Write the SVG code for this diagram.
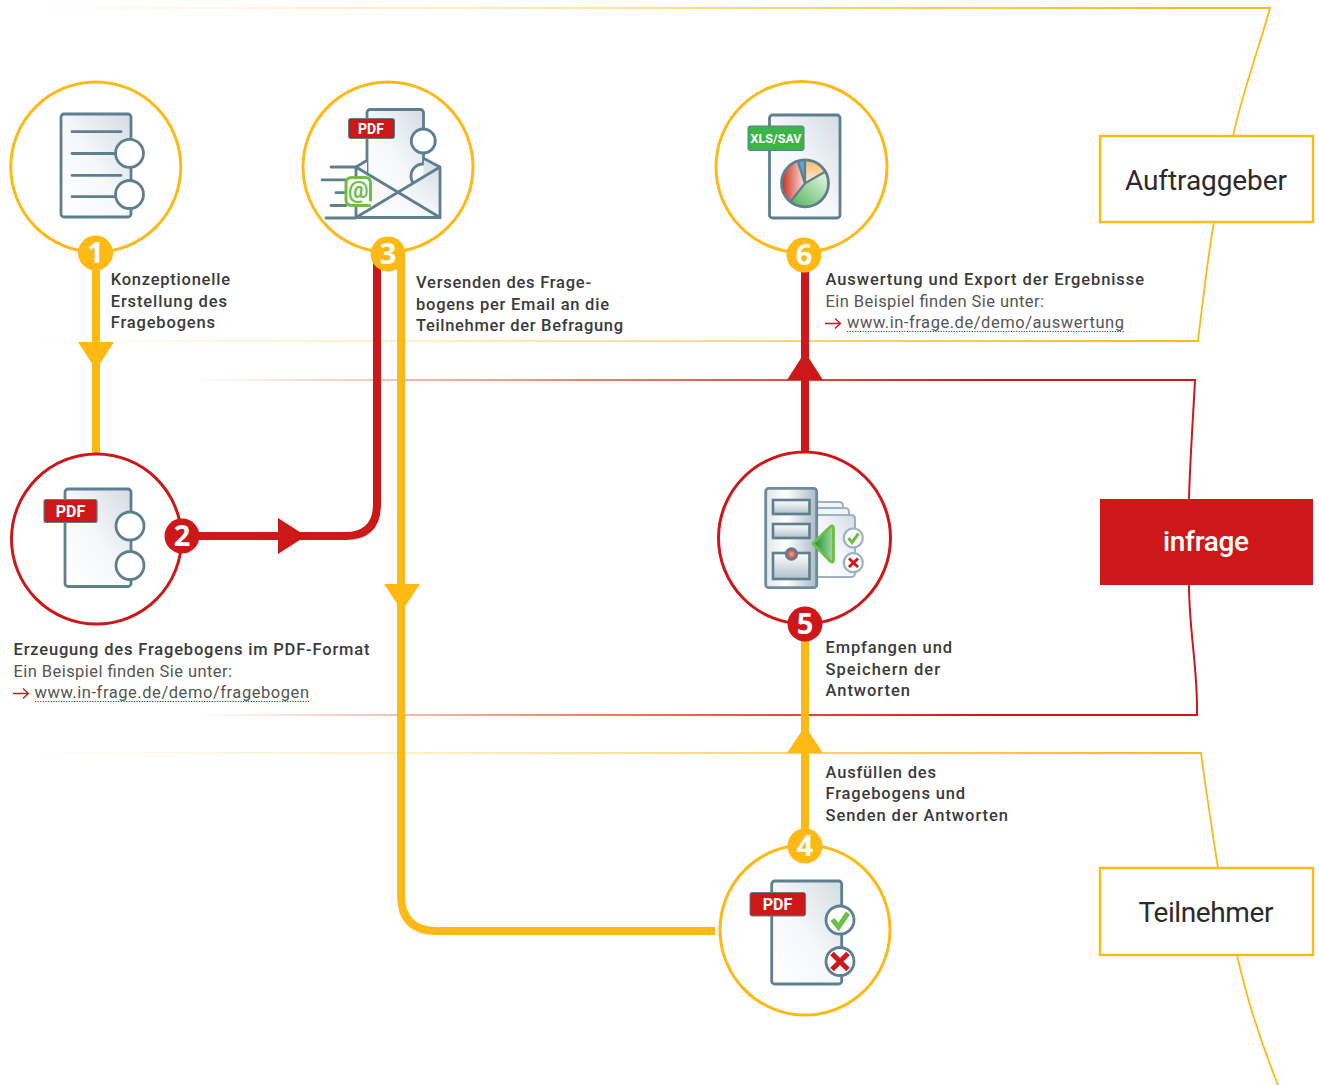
<svg xmlns="http://www.w3.org/2000/svg" width="1319" height="1085" viewBox="0 0 1319 1085">
<style>
.t{font-family:Roboto,"Noto Sans",sans-serif;font-size:16.5px;font-weight:500;fill:#3a3a3a}
.r{font-family:Roboto,"Noto Sans",sans-serif;font-size:16.5px;font-weight:400;fill:#555}
.b{font-family:Roboto,"Noto Sans",sans-serif;font-size:28px;font-weight:400;fill:#2b2b2b;text-anchor:middle}
.n{font-family:"Open Sans","Liberation Sans",sans-serif;font-size:29px;font-weight:700;fill:#fff;text-anchor:middle}
.tag{font-family:Roboto,"Liberation Sans",sans-serif;font-size:16px;font-weight:700;fill:#fff;text-anchor:middle}
.cy{fill:#fff;stroke:#ffb914;stroke-width:3}
.cr{fill:#fff;stroke:#cd1719;stroke-width:3}
.doc{fill:url(#dg);stroke:#5f7f8f;stroke-width:2.8}
.ic{fill:#fff;stroke:#5f7f8f;stroke-width:2.8}
.ln{fill:none;stroke:#5f7f8f;stroke-width:2.8;stroke-linecap:round}
.yl{fill:none;stroke:#ffb914;stroke-width:8}
.rl{fill:none;stroke:#cd1719;stroke-width:8}
.ud{stroke:#cd1719;stroke-width:1.2;stroke-dasharray:1.2 1.4;fill:none}
.ar{stroke:#cd1719;stroke-width:1.3;fill:none}
</style>
<defs>
<linearGradient id="dg" x1="0" y1="1" x2="1" y2="0"><stop offset="0" stop-color="#fff"/><stop offset=".5" stop-color="#f5f7f9"/><stop offset="1" stop-color="#d3dce3"/></linearGradient>
<linearGradient id="sv" x1="0" y1="0" x2="1" y2="0"><stop offset="0" stop-color="#dfe6ea"/><stop offset=".4" stop-color="#fff"/><stop offset="1" stop-color="#a9bbc6"/></linearGradient>
<linearGradient id="sl" x1="0" y1="0" x2="0" y2="1"><stop offset="0" stop-color="#fff"/><stop offset="1" stop-color="#b0c1cb"/></linearGradient>
<linearGradient id="gy" gradientUnits="userSpaceOnUse" x1="20" y1="0" x2="1200" y2="0"><stop offset="0" stop-color="#ffb914" stop-opacity="0"/><stop offset=".35" stop-color="#ffb914" stop-opacity=".25"/><stop offset="1" stop-color="#ffb914"/></linearGradient>
<linearGradient id="gr" gradientUnits="userSpaceOnUse" x1="195" y1="0" x2="1000" y2="0"><stop offset="0" stop-color="#e8866a" stop-opacity="0"/><stop offset=".48" stop-color="#e8866a"/><stop offset="1" stop-color="#cd1719"/></linearGradient>
<linearGradient id="pr" x1="0" y1="0" x2="1" y2="0"><stop offset="0" stop-color="#cd2a1c"/><stop offset="1" stop-color="#fbe5dc"/></linearGradient>
<linearGradient id="pg" x1="0" y1="1" x2="1" y2="0"><stop offset="0" stop-color="#4fb255"/><stop offset="1" stop-color="#f2f8ef"/></linearGradient>
<linearGradient id="po" x1="0" y1="0" x2="0" y2="1"><stop offset="0" stop-color="#fdb866"/><stop offset="1" stop-color="#fff0dc"/></linearGradient>
<linearGradient id="ga" x1="0" y1="0" x2="1" y2="0"><stop offset="0" stop-color="#0f8f30"/><stop offset="1" stop-color="#a8d8a4"/></linearGradient>
<radialGradient id="kn" cx=".5" cy=".5" r=".6"><stop offset="0" stop-color="#f5a79b"/><stop offset="1" stop-color="#cd1719"/></radialGradient>
</defs>

<g id="bands" fill="none">
<path d="M20 8 H1270 C1260 45 1243 90 1233 136 M1214 222 C1207 262 1203 300 1198 341 H40" stroke="url(#gy)" stroke-width="1.8"/>
<path d="M195 380 H1195 C1193 420 1190 460 1189 499 M1189 585 C1189 630 1198 670 1197 715 H195" stroke="url(#gr)" stroke-width="2"/>
<path d="M40 753 H1201 C1206 790 1212 830 1218 868 M1237 955 C1247 1000 1262 1045 1278 1085" stroke="url(#gy)" stroke-width="1.800"/>
</g>

<g id="connectors">
<path class="yl" d="M96 253 V455"/>
<polygon points="78,342 114,342 96,370" fill="#ffb914"/>
<path class="rl" d="M182 536 H345 Q377 536 377 504 V256"/>
<polygon points="278,518 278,554 306,536" fill="#cd1719"/>
<path class="yl" d="M401 256 V895 Q401 931 437 931 H715"/>
<polygon points="384,584 420,584 402,611" fill="#ffb914"/>
<path class="rl" d="M805 255 V452"/>
<polygon points="787,380 823,380 805,352" fill="#cd1719"/>
<path class="yl" d="M805 846 V624"/>
<polygon points="787,753 823,753 805,726" fill="#ffb914"/>
</g>

<g id="node-auftraggeber">
<rect x="1100" y="136" width="213" height="86" fill="#fff" stroke="#ffb914" stroke-width="2.400"/>
<text class="b" x="1206" y="190" textLength="162">Auftraggeber</text>
</g>
<g id="node-infrage">
<rect x="1100" y="499" width="213" height="86" fill="#cd1719"/>
<text class="b" x="1206" y="551" textLength="86" style="fill:#fff;font-weight:500">infrage</text>
</g>
<g id="node-teilnehmer">
<rect x="1100" y="868" width="213" height="87" fill="#fff" stroke="#ffb914" stroke-width="2.400"/>
<text class="b" x="1206" y="922" textLength="135">Teilnehmer</text>
</g>

<g id="node-1">
<circle class="cy" cx="95.800" cy="167" r="85"/>
<rect class="doc" x="61" y="114" width="70" height="103" rx="3"/>
<path class="ln" d="M72 131.700H121M72 153.500H118M72 175.300H121M72 196.700H118"/>
<circle class="ic" cx="129.500" cy="153.300" r="14"/>
<circle class="ic" cx="129.500" cy="194.500" r="14"/>
<circle cx="95.500" cy="253" r="17.500" fill="#ffb914"/>
<text class="n" x="95.500" y="263">1</text>
<text class="t" x="110.700" y="285" textLength="119.300">Konzeptionelle</text>
<text class="t" x="110.700" y="307" textLength="116.300">Erstellung des</text>
<text class="t" x="110.700" y="328" textLength="104.300">Fragebogens</text>
</g>

<g id="node-2">
<circle class="cr" cx="96.500" cy="539" r="85"/>
<rect class="doc" x="65" y="489" width="66" height="97.500" rx="3"/>
<circle class="ic" cx="130" cy="526" r="14"/>
<circle class="ic" cx="130" cy="565.500" r="14"/>
<rect x="44" y="499.500" width="53" height="23" rx="2" fill="#cd1719" stroke="#5f7f8f" stroke-width="1.200"/>
<text class="tag" x="70.500" y="517">PDF</text>
<circle cx="182" cy="536" r="17.500" fill="#cd1719"/>
<text class="n" x="182" y="546">2</text>
<text class="t" x="13.500" y="655" textLength="356">Erzeugung des Fragebogens im PDF-Format</text>
<text class="r" x="13.500" y="677" textLength="218.500">Ein Beispiel finden Sie unter:</text>
<path class="ar" d="M13 693.500H28M23 688.500L28.500 693.500L23 698.500"/>
<text class="r" x="34.500" y="698" textLength="274.500">www.in-frage.de/demo/fragebogen</text>
<path class="ud" d="M35 701.500H309"/>
</g>

<g id="node-3">
<circle class="cy" cx="388" cy="167" r="85"/>
<rect class="doc" x="367" y="109.500" width="56.500" height="90" rx="3"/>
<circle class="ic" cx="423.300" cy="141" r="12"/>
<circle class="ic" cx="423" cy="176" r="12"/>
<rect x="348.500" y="118.500" width="46" height="20" rx="2" fill="#cd1719" stroke="#5f7f8f" stroke-width="1"/>
<text class="tag" x="371" y="134" style="font-size:14px">PDF</text>
<path d="M356 167 L367 160.500 V175 L398 192 L423 178 L424 160 L440 167 V217.500 H356Z" fill="url(#dg)"/>
<path class="ln" d="M356 167V217.500H440V167L424 158.500M356 167L366 161M356 167L440 217.500M440 167L356 217.500"/>
<path class="ln" d="M331 167H356M322 179.800H346M336 192.700H346M331 205.500H346M326 218H356"/>
<path d="M369.500 205.500H352Q346 205.500 346 200V183Q346 177.500 352 177.500H365Q370.500 177.500 370.500 183V200" fill="#fff" stroke="#6cbe45" stroke-width="3" stroke-linecap="round"/>
<text x="358.200" y="198" text-anchor="middle" style="font-family:Roboto,sans-serif;font-size:23px;font-weight:700;fill:#6cbe45">@</text>
<circle cx="388" cy="254" r="17.500" fill="#ffb914"/>
<text class="n" x="388" y="264">3</text>
<text class="t" x="416" y="288" textLength="175">Versenden des Frage-</text>
<text class="t" x="416" y="310" textLength="193">bogens per Email an die</text>
<text class="t" x="416" y="331" textLength="207">Teilnehmer der Befragung</text>
</g>

<g id="node-4">
<circle class="cy" cx="805" cy="930" r="85"/>
<rect class="doc" x="771.700" y="881" width="70" height="103" rx="3"/>
<rect x="750" y="892.500" width="55.500" height="23.500" rx="2" fill="#cd1719" stroke="#5f7f8f" stroke-width="1"/>
<text class="tag" x="777.500" y="910">PDF</text>
<circle class="ic" cx="840" cy="920" r="14"/>
<circle class="ic" cx="840" cy="961.500" r="14"/>
<path d="M832.500 919.500L838.500 927L848 913" fill="none" stroke="#6cbe45" stroke-width="5"/>
<path d="M832 953.500L848 969.500M848 953.500L832 969.500" fill="none" stroke="#cd1719" stroke-width="5"/>
<circle cx="805" cy="846" r="17.500" fill="#ffb914"/>
<text class="n" x="805" y="856">4</text>
<text class="t" x="825.500" y="778" textLength="110.500">Ausfüllen des</text>
<text class="t" x="825.500" y="799" textLength="139.500">Fragebogens und</text>
<text class="t" x="825.500" y="821" textLength="182.500">Senden der Antworten</text>
</g>

<g id="node-5">
<circle class="cr" cx="804.500" cy="538" r="86"/>
<path d="M816 502H839Q843 502 843 506V510H816Z" fill="#f2f5f7" stroke="#9db2be" stroke-width="2"/>
<path d="M816 508H845Q849 508 849 512V516H816Z" fill="#f2f5f7" stroke="#9db2be" stroke-width="2"/>
<path d="M816 515H851Q855 515 855 519V573Q855 577 851 577H816Z" fill="url(#dg)" stroke="#9db2be" stroke-width="2"/>
<rect x="765.700" y="488.300" width="51" height="99.400" rx="3" fill="url(#sv)" stroke="#6f8c9b" stroke-width="2.800"/>
<rect x="773" y="500" width="36.500" height="14" fill="url(#sl)" stroke="#5f7f8f" stroke-width="2.600"/>
<rect x="773" y="524" width="36.500" height="14" fill="url(#sl)" stroke="#5f7f8f" stroke-width="2.600"/>
<rect x="773" y="553" width="36.500" height="26" fill="url(#sl)" stroke="#5f7f8f" stroke-width="2.600"/>
<circle cx="791.500" cy="554" r="5.500" fill="url(#kn)" stroke="#5f7f8f" stroke-width="2.400"/>
<path d="M813 543.500L830 527Q833.500 524 833.500 529V559Q833.500 564 830 561Z" fill="url(#ga)" stroke="#6cbe45" stroke-width="2.800" stroke-linejoin="round"/>
<circle cx="853.300" cy="538" r="9.500" fill="#fff" stroke="#9db2be" stroke-width="2.200"/>
<circle cx="853.300" cy="562.700" r="9.500" fill="#fff" stroke="#9db2be" stroke-width="2.200"/>
<path d="M848.500 538L852 542.500L858.500 533.500" fill="none" stroke="#6cbe45" stroke-width="3"/>
<path d="M849 558.500L858 567M858 558.500L849 567" fill="none" stroke="#cd1719" stroke-width="3"/>
<circle cx="805" cy="624" r="17.500" fill="#cd1719"/>
<text class="n" x="805" y="634">5</text>
<text class="t" x="825.500" y="653" textLength="126.500">Empfangen und</text>
<text class="t" x="825.500" y="675" textLength="114.500">Speichern der</text>
<text class="t" x="825.500" y="696" textLength="84.500">Antworten</text>
</g>

<g id="node-6">
<circle class="cy" cx="801.500" cy="167" r="85.500"/>
<rect class="doc" x="769.500" y="115" width="70.500" height="103" rx="3"/>
<rect x="748" y="126" width="56" height="24.500" rx="2" fill="#3bb54a" stroke="#5f7f8f" stroke-width="1"/>
<text class="tag" x="776" y="143" style="font-size:12.500px" textLength="51">XLS/SAV</text>
<path d="M805 183.300L797.700 160.900A23.500 23.500 0 0 1 805 159.800Z" fill="#5aa9dc"/>
<path d="M805 183.300V159.800A23.500 23.500 0 0 1 825.400 171.500Z" fill="url(#po)"/>
<path d="M805 183.300L825.400 171.500A23.500 23.500 0 0 1 790.500 201.800Z" fill="url(#pg)"/>
<path d="M805 183.300L790.500 201.800A23.500 23.500 0 0 1 797.700 160.900Z" fill="url(#pr)"/>
<path d="M797.700 160.900L805 183.300V159.800M825.400 171.500L805 183.300L790.500 201.800" fill="none" stroke="#5f7f8f" stroke-width="2.400"/>
<circle cx="805" cy="183.300" r="23.500" fill="none" stroke="#5f7f8f" stroke-width="2.800"/>
<circle cx="804" cy="255" r="17.500" fill="#ffb914"/>
<text class="n" x="804" y="265">6</text>
<text class="t" x="825.500" y="285" textLength="318.500">Auswertung und Export der Ergebnisse</text>
<text class="r" x="825.500" y="307" textLength="218.500">Ein Beispiel finden Sie unter:</text>
<path class="ar" d="M825 323.500H840M835 318.500L840.500 323.500L835 328.500"/>
<text class="r" x="847" y="328" textLength="277">www.in-frage.de/demo/auswertung</text>
<path class="ud" d="M847 331.500H1124"/>
</g>
</svg>
